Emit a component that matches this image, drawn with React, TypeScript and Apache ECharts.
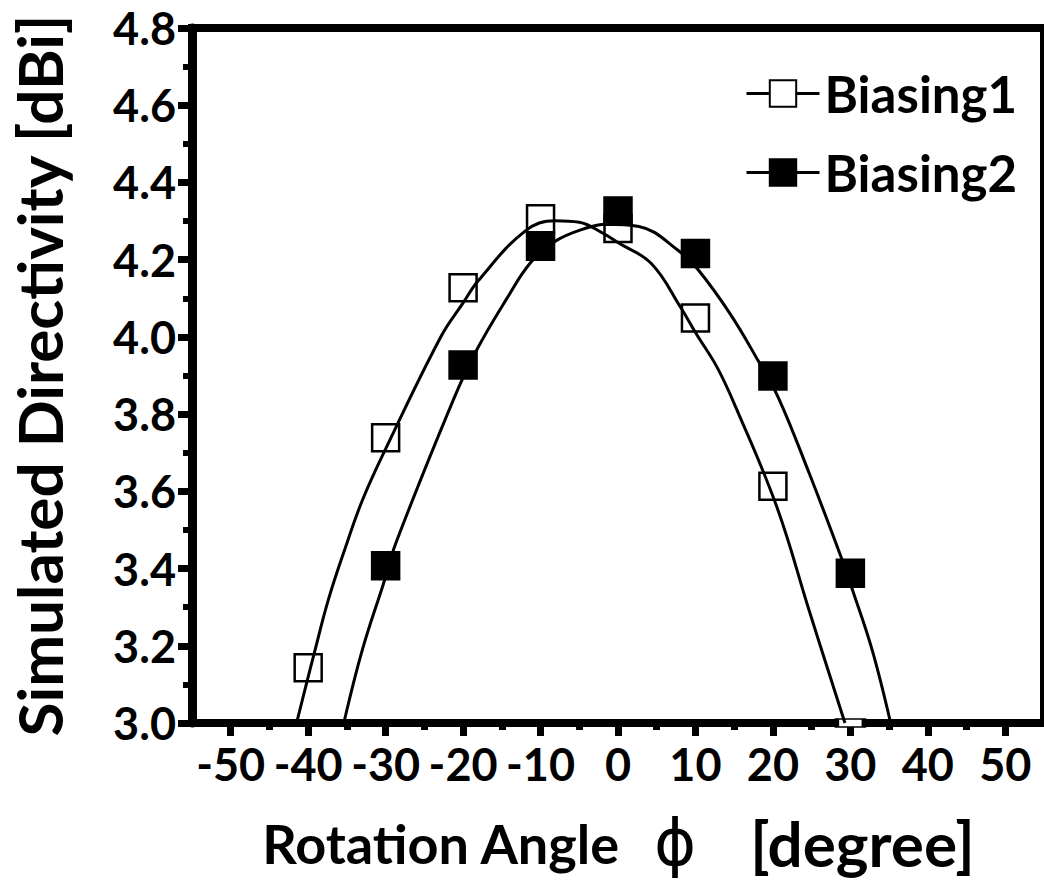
import React, { useEffect, useRef } from "react";
import * as echarts from "echarts";

// Measured markers
const angles = [-40, -30, -20, -10, 0, 10, 20, 30];
const biasing1 = [3.143, 3.739, 4.127, 4.306, 4.281, 4.049, 3.613, 3.0];
const angles2 = [-30, -20, -10, 0, 10, 20, 30];
const biasing2 = [3.407, 3.927, 4.235, 4.326, 4.216, 3.899, 3.388];

// Fitted curves
const fit1X = [-41.5, -39.1, -37.4, -35.3, -33.0, -30.0, -22.8, -20.0, -18.1, -12.0, -8.1, -5.0, -2.0, 0.1, 4.3, 8.1, 10.1, 12.8, 15.2, 20.5, 24.7, 29.3];
const fit1Y = [3.0, 3.19, 3.319, 3.448, 3.577, 3.71, 4.003, 4.088, 4.144, 4.274, 4.301, 4.297, 4.269, 4.243, 4.19, 4.076, 4.008, 3.921, 3.818, 3.56, 3.29, 3.0];
const fit2X = [-35.4, -33.0, -30.2, -28.7, -21.3, -18.3, -14.3, -11.3, -8.1, -4.1, -1.6, 2.7, 7.9, 10.3, 14.5, 18.1, 20.7, 24.7, 28.8, 30.2, 32.8, 35.2];
const fit2Y = [3.0, 3.19, 3.366, 3.465, 3.835, 3.964, 4.101, 4.192, 4.248, 4.282, 4.292, 4.286, 4.222, 4.175, 4.059, 3.938, 3.843, 3.646, 3.43, 3.349, 3.19, 3.0];

const xMajorTicks = [-50, -40, -30, -20, -10, 0, 10, 20, 30, 40, 50];
const xMinorTicks = [-45, -35, -25, -15, -5, 5, 15, 25, 35, 45];

const FONT = "Lato";

export default function App() {
  const ref = useRef<HTMLDivElement>(null);
  useEffect(() => {
    if (!ref.current) return;
    const chart = echarts.init(ref.current, null, { renderer: "svg" });
    const zip = (xs: number[], ys: number[]) => xs.map((x, i) => [x, ys[i]]);
    const b1Data = angles.map((a, i) =>
      i === angles.length - 1 ? { value: [a, biasing1[i]], symbolSize: [27, 8] } : [a, biasing1[i]]
    );
    chart.setOption({
      animation: false,
      backgroundColor: "#fff",
      grid: {
        left: 187,
        top: 28,
        right: -7,
        bottom: 156.5,
        show: true,
        borderColor: "#000",
        borderWidth: 8,
      },
      legend: {
        orient: "vertical",
        left: 740,
        top: 63,
        itemWidth: 73,
        itemHeight: 33,
        itemGap: 28,
        data: ["Biasing1", "Biasing2"],
        lineStyle: { color: "#000", width: 3 },
        textStyle: { fontFamily: FONT, fontWeight: "bold", fontSize: 51, color: "#000", lineHeight: 50 },
      },
      xAxis: [
        {
          type: "value",
          min: -55,
          max: 55,
          position: "bottom",
          axisLine: { show: true, onZero: false, lineStyle: { color: "#000", width: 8 } },
          axisTick: { show: true, customValues: xMajorTicks, length: 13, lineStyle: { color: "#000", width: 7 } },
          axisLabel: {
            customValues: xMajorTicks,
            margin: 18,
            fontFamily: FONT,
            fontWeight: "bold",
            fontSize: 45,
            color: "#000",
          },
          splitLine: { show: false },
          name: "{a|Rotation Angle}{b|ϕ}{c|[degree]}",
          nameLocation: "middle",
          nameGap: 88,
          nameTextStyle: {
            rich: {
              a: { fontFamily: FONT, fontWeight: "bold", fontSize: 54, color: "#000", padding: [0, 34, 0, 0] },
              b: { fontFamily: "DejaVu Sans", fontSize: 64, color: "#000", padding: [0, 54, 0, 0] },
              c: { fontFamily: FONT, fontWeight: "bold", fontSize: 62, color: "#000" },
            },
          },
        },
        {
          type: "value",
          min: -55,
          max: 55,
          position: "bottom",
          axisLine: { show: false, onZero: false },
          axisTick: { show: true, customValues: xMinorTicks, length: 7, lineStyle: { color: "#000", width: 7 } },
          axisLabel: { show: false },
          splitLine: { show: false },
        },
      ],
      yAxis: {
        type: "value",
        min: 3.0,
        max: 4.8,
        interval: 0.2,
        axisLine: { show: true, onZero: false, lineStyle: { color: "#000", width: 9 } },
        axisTick: { show: true, length: 14, lineStyle: { color: "#000", width: 7 } },
        minorTick: { show: true, splitNumber: 2, length: 9, lineStyle: { color: "#000", width: 6 } },
        splitLine: { show: false },
        axisLabel: {
          margin: 16,
          fontFamily: FONT,
          fontWeight: "bold",
          fontSize: 45,
          color: "#000",
          formatter: (v: number) => v.toFixed(1),
        },
        name: "Simulated Directivity [dBi]",
        nameLocation: "middle",
        nameRotate: 90,
        nameGap: 122,
        nameTextStyle: { fontFamily: FONT, fontWeight: "bold", fontSize: 62, color: "#000" },
      },
      series: [
        {
          name: "Biasing1",
          type: "line",
          data: zip(fit1X, fit1Y),
          smooth: 0.4,
          symbol: "rect",
          showSymbol: false,
          lineStyle: { color: "#000", width: 3 },
          itemStyle: { color: "#fff", borderColor: "#000", borderWidth: 2.5 },
          clip: true,
        },
        {
          name: "Biasing2",
          type: "line",
          data: zip(fit2X, fit2Y),
          smooth: 0.4,
          symbol: "rect",
          showSymbol: false,
          lineStyle: { color: "#000", width: 3 },
          itemStyle: { color: "#000", borderColor: "#000", borderWidth: 2.5 },
          clip: true,
        },
        {
          name: "Biasing1 data",
          type: "scatter",
          data: b1Data,
          symbol: "rect",
          symbolSize: 27,
          itemStyle: { color: "#fff", borderColor: "#000", borderWidth: 2.5, opacity: 1 },
        },
        {
          name: "Biasing2 data",
          type: "scatter",
          data: zip(angles2, biasing2),
          symbol: "rect",
          symbolSize: 27,
          itemStyle: { color: "#000", borderColor: "#000", borderWidth: 2.5, opacity: 1 },
        },
      ],
    });
    return () => chart.dispose();
  }, []);
  return <div ref={ref} style={{ position: "absolute", left: 0, top: 0, width: 1044, height: 880 }} />;
}
